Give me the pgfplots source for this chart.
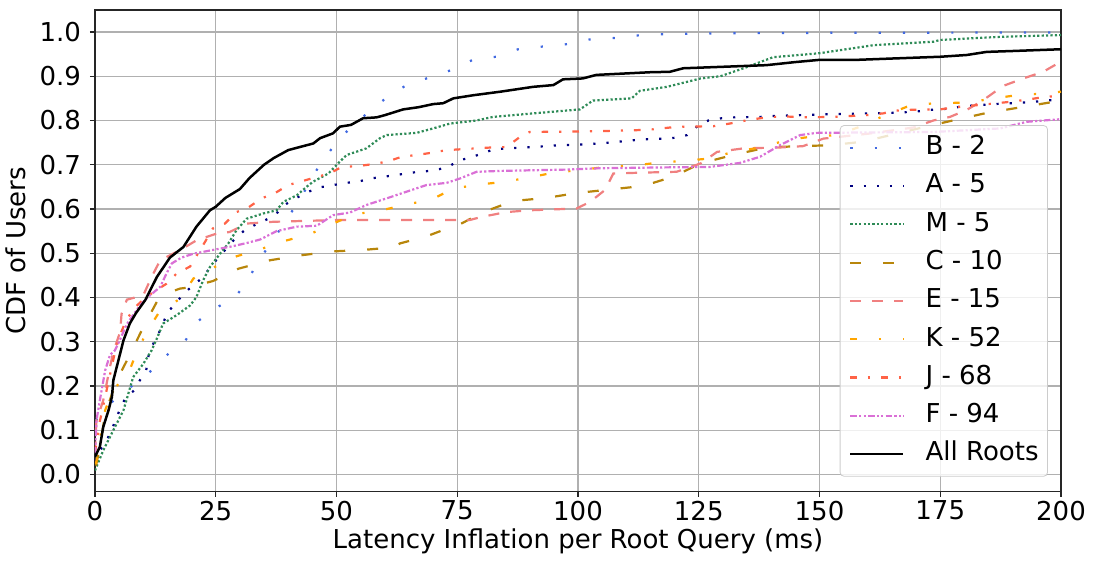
\documentclass[border=0pt]{standalone}
\usepackage{fontspec}
\setmainfont{DejaVu Sans}
\usepackage{pgfplots}
\pgfplotsset{compat=1.18}
\definecolor{cB}{HTML}{4169E1}
\definecolor{cA}{HTML}{000080}
\definecolor{cM}{HTML}{2E8B57}
\definecolor{cC}{HTML}{B8860B}
\definecolor{cE}{HTML}{F08080}
\definecolor{cK}{HTML}{FFA500}
\definecolor{cJ}{HTML}{FF6347}
\definecolor{cF}{HTML}{DA70D6}
\definecolor{gridc}{HTML}{B0B0B0}
\begin{document}
\fontsize{13pt}{15.6pt}\selectfont
\begin{tikzpicture}
\begin{axis}[
  scale only axis,
  width=483pt, height=240.85pt,
  xmin=0, xmax=200, ymin=-0.039, ymax=1.0497,
  xtick={0,25,...,200},
  ytick={0,0.1,...,1.0},
  yticklabel style={/pgf/number format/.cd, fixed, fixed zerofill, precision=1},
  xticklabel style={yshift=2.5pt},
  /pgf/number format/assume math mode=true,
  tick align=outside, tick style={black!85, line width=0.6pt}, major tick length=2.5pt,
  tick pos=left,
  grid=major, grid style={gridc, line width=0.6pt},
  axis line style={black!85, line width=0.7pt},
  ticklabel style={font=\fontsize{13pt}{15.6pt}\selectfont},
  label style={font=\fontsize{13pt}{15.6pt}\selectfont},
  xlabel={Latency Inflation per Root Query (ms)},
  ylabel={CDF of Users},
  xlabel style={yshift=4.5pt},
  ylabel style={yshift=-2pt},
  legend cell align=left,
  legend image code/.code={\draw[#1] (0pt,0pt) -- (26.5pt,0pt);},
  legend style={at={(0.9865,0.0311)}, anchor=south east,
    draw=black!20, fill=white, fill opacity=0.8, text opacity=1,
    rounded corners=2pt, inner xsep=4.5pt, inner ysep=5pt,
    column sep=10.5pt, row sep=6.95pt,
    font=\fontsize{13pt}{15.6pt}\selectfont,
    nodes={inner xsep=0pt, inner ysep=0pt, text height=9.5pt, text depth=2.7pt}},
  every axis plot/.append style={line width=1.1pt},
]
% B - 2
\addplot[cB, dash pattern=on 1.1pt off 11pt] coordinates {
(0.2,0.122)(2.4,0.152)(5.5,0.184)(9.2,0.211)(12.1,0.239)(15.2,0.273)(18.6,0.30)(20.9,0.343)(24.8,0.375)(29,0.40)(31.7,0.44)(34,0.486)(36.8,0.528)(39.3,0.571)(42,0.614)(46.9,0.707)(49.9,0.748)(53.1,0.787)(56.8,0.82)(60.4,0.852)(64.5,0.88)(69.2,0.897)(73.8,0.914)(78.2,0.937)(83,0.944)(87.6,0.961)(92.6,0.967)(97.4,0.972)(102.3,0.983)(107.1,0.986)(112,0.992)(117,0.995)(130,0.997)(150,0.998)(200,0.999)
};
\addlegendentry{B - 2}
% A - 5
\addplot[cA, dash pattern=on 1.1pt off 5.5pt] coordinates {
(0,0.03)(1,0.054)(2.4,0.077)(3.5,0.1)(4.3,0.126)(5.3,0.149)(6.2,0.171)(8.1,0.19)(9.3,0.213)(10.6,0.235)(11,0.265)(11.7,0.288)(13,0.314)(14,0.339)(15,0.366)(16.8,0.388)(18.4,0.409)(20.4,0.428)(22.4,0.446)(23.9,0.469)(25.7,0.492)(27.4,0.513)(29,0.533)(31,0.552)(33.5,0.566)(35.7,0.577)(37.9,0.593)(39.7,0.612)(41.9,0.626)(44.2,0.639)(46.6,0.649)(49.3,0.654)(52,0.659)(54.6,0.662)(57.1,0.669)(59.9,0.673)(62.6,0.677)(65.2,0.682)(67.8,0.684)(70.4,0.688)(73,0.694)(75.2,0.709)(77.6,0.716)(80.1,0.725)(82.6,0.735)(85.3,0.737)(90.6,0.74)(96,0.744)(101.4,0.746)(106.7,0.75)(109.3,0.753)(112.1,0.756)(114.7,0.758)(117.5,0.759)(120.3,0.761)(122.6,0.767)(124.5,0.785)(127,0.8)(129.7,0.805)(132.1,0.807)(137.7,0.808)(140.4,0.81)(145.8,0.812)(151.2,0.814)(159.4,0.816)(164.6,0.817)(170,0.82)(172.7,0.824)(175.3,0.825)(177.9,0.829)(180.6,0.833)(186,0.837)(191.4,0.84)(194.2,0.842)(200,0.848)
};
\addlegendentry{A - 5}
% M - 5
\addplot[cM, dash pattern=on 1.1pt off 1.1pt] coordinates {
(0,0.009)(1.7,0.054)(3.8,0.1)(5.9,0.145)(7.1,0.19)(7.9,0.22)(10,0.25)(11.7,0.28)(12.8,0.307)(14.1,0.341)(16.9,0.36)(19.7,0.382)(21,0.401)(22.4,0.439)(23.8,0.469)(25.9,0.499)(27.6,0.522)(29.3,0.552)(31.4,0.578)(34.9,0.59)(37.6,0.597)(39,0.616)(41.8,0.631)(43.8,0.65)(45.2,0.662)(48.3,0.68)(50.7,0.707)(52.1,0.722)(56.2,0.737)(59,0.76)(60.4,0.767)(66.6,0.772)(70,0.782)(73.5,0.793)(79,0.8)(82.4,0.808)(90.7,0.816)(100.4,0.825)(103.1,0.845)(111.1,0.85)(112.8,0.867)(118.4,0.876)(125.4,0.895)(129.5,0.9)(134.3,0.918)(140.4,0.943)(150,0.952)(161.1,0.97)(173.6,0.978)(175,0.982)(187.4,0.989)(200,0.993)
};
\addlegendentry{M - 5}
% C - 10
\addplot[cC, dash pattern=on 5.5pt off 11pt] coordinates {
(0.2,0.02)(1,0.06)(2.1,0.137)(4.5,0.213)(7.2,0.27)(10,0.333)(12.8,0.39)(15,0.41)(17.6,0.42)(19,0.422)(24.4,0.437)(29.7,0.465)(36.2,0.484)(42.4,0.495)(49.3,0.504)(56.2,0.508)(62.5,0.514)(63.1,0.522)(68.6,0.538)(74.2,0.561)(75.5,0.565)(80.4,0.593)(86.6,0.618)(93.5,0.625)(99.7,0.636)(106.6,0.644)(113.5,0.652)(119.7,0.673)(125.4,0.703)(132.1,0.722)(139.1,0.739)(146,0.742)(152.2,0.744)(159,0.752)(172,0.786)(178.4,0.802)(184.6,0.817)(191.8,0.83)(198.4,0.842)(200,0.848)
};
\addlegendentry{C - 10}
% E - 15
\addplot[cE, dash pattern=on 5.5pt off 5.5pt] coordinates {
(0,0.05)(0.3,0.122)(1.7,0.167)(3.1,0.243)(3.8,0.277)(5.2,0.322)(5.5,0.363)(6.6,0.395)(10,0.405)(11.7,0.446)(13.5,0.484)(17.6,0.507)(21,0.529)(24.8,0.543)(27.9,0.548)(31.4,0.567)(36.9,0.571)(50,0.575)(77.6,0.575)(80,0.582)(85.2,0.593)(90,0.597)(99.7,0.601)(102.5,0.616)(105.6,0.643)(107.3,0.68)(112.8,0.682)(120.4,0.684)(125.4,0.703)(128.8,0.729)(134.3,0.737)(141.9,0.739)(146.6,0.742)(150.8,0.759)(160,0.77)(169.4,0.784)(173.6,0.8)(177,0.808)(180.5,0.824)(183.9,0.846)(188,0.878)(192.2,0.895)(196.3,0.91)(200,0.933)
};
\addlegendentry{E - 15}
% K - 52
\addplot[cK, dash pattern=on 3.3pt off 11pt on 1.1pt off 11pt] coordinates {
(0.2,0.024)(1,0.08)(2.1,0.145)(3,0.17)(4.5,0.2)(6.9,0.228)(8.5,0.273)(10.7,0.322)(13.3,0.367)(17.6,0.397)(20.4,0.443)(24.8,0.469)(29.3,0.493)(34.5,0.51)(39.7,0.529)(44.5,0.543)(49.3,0.567)(53.8,0.588)(59.3,0.597)(64.5,0.61)(69.8,0.622)(74.2,0.646)(79.3,0.655)(84.5,0.661)(89.9,0.671)(94.9,0.682)(100.5,0.688)(105.7,0.695)(111.4,0.698)(116.2,0.704)(122.1,0.709)(127.3,0.714)(132.1,0.729)(138.4,0.74)(143.2,0.756)(148.1,0.763)(153.6,0.767)(158.4,0.786)(163.2,0.81)(168.1,0.831)(173.6,0.839)(178.8,0.84)(183.9,0.846)(189.4,0.855)(195,0.86)(200,0.865)
};
\addlegendentry{K - 52}
% J - 68
\addplot[cJ, dash pattern=on 3.3pt off 5.5pt on 1.1pt off 5.5pt] coordinates {
(0,0.05)(0.5,0.085)(1,0.12)(2,0.17)(3,0.22)(4,0.27)(5,0.31)(6.5,0.35)(8.5,0.38)(10.5,0.40)(12.5,0.415)(14.8,0.431)(16.9,0.454)(19.7,0.47)(22.8,0.526)(24.4,0.556)(26.9,0.567)(29.3,0.593)(31.7,0.603)(34.5,0.624)(37.3,0.636)(40,0.654)(42.6,0.662)(45.5,0.671)(48.5,0.68)(51.1,0.695)(54.5,0.697)(57.3,0.701)(60.5,0.707)(63.5,0.718)(66.6,0.722)(69.7,0.727)(72.8,0.733)(75.9,0.735)(82.1,0.739)(85.2,0.74)(88,0.763)(90,0.774)(99.7,0.775)(105,0.776)(112,0.778)(115.5,0.78)(119,0.784)(121.8,0.786)(128,0.787)(131.4,0.793)(134.3,0.799)(137.7,0.805)(140.4,0.808)(143.2,0.809)(146.6,0.807)(152.8,0.808)(159.7,0.812)(163.2,0.816)(165.3,0.822)(168.8,0.824)(175,0.825)(178,0.83)(181.1,0.833)(189.4,0.842)(193.6,0.848)(197,0.854)(200,0.855)
};
\addlegendentry{J - 68}
% F - 94
\addplot[cF, dash pattern=on 3.3pt off 1.1pt on 1.1pt off 1.1pt on 1.1pt off 1.1pt] coordinates {
(0,0.047)(0.3,0.122)(1,0.167)(2.1,0.235)(3.1,0.27)(4.1,0.28)(5,0.3)(6.6,0.34)(9.3,0.382)(11,0.401)(13.5,0.424)(14.8,0.454)(15.9,0.477)(17.9,0.49)(20.4,0.499)(23.8,0.506)(28.6,0.516)(31.4,0.523)(34.2,0.531)(37.6,0.55)(41.8,0.56)(45.9,0.562)(49.3,0.586)(52.8,0.592)(56.2,0.609)(60.4,0.624)(64.5,0.639)(68.6,0.654)(72.8,0.659)(75.6,0.669)(79,0.684)(83.9,0.686)(97.6,0.689)(104.5,0.692)(118.4,0.694)(127.3,0.695)(133.5,0.704)(137.7,0.718)(141.8,0.744)(146,0.767)(149.4,0.772)(173.6,0.774)(187.4,0.782)(192.9,0.797)(200,0.803)
};
\addlegendentry{F - 94}
% All Roots
\addplot[black, line width=1.25pt] coordinates {
(0,0.04)(1,0.062)(1.7,0.107)(2.8,0.145)(3.5,0.175)(3.8,0.213)(5.2,0.273)(5.9,0.303)(7.2,0.341)(8.5,0.365)(10.4,0.394)(12.8,0.446)(15.5,0.49)(18.3,0.514)(21,0.56)(23.8,0.597)(25,0.605)(27,0.625)(30,0.645)(32,0.67)(35,0.70)(37,0.715)(40,0.733)(42.4,0.74)(45.2,0.748)(46.6,0.76)(49.3,0.771)(50.7,0.786)(53,0.79)(55.5,0.805)(58.3,0.807)(60,0.812)(63.8,0.825)(67,0.83)(70,0.837)(72.1,0.839)(74.2,0.85)(78.3,0.857)(83.9,0.865)(90.7,0.876)(94.9,0.88)(96.9,0.893)(101,0.895)(103.8,0.903)(114.9,0.909)(119,0.91)(121.8,0.918)(139,0.925)(145,0.932)(150,0.937)(157.7,0.937)(165,0.94)(175,0.944)(180.5,0.948)(184.6,0.955)(190,0.957)(200,0.961)
};
\addlegendentry{All Roots}
\end{axis}
\pgfresetboundingbox
\path ([shift={(-47.5pt,-34.5pt)}]current axis.south west) rectangle ([shift={(16pt,5pt)}]current axis.north east);
\end{tikzpicture}
\end{document}
